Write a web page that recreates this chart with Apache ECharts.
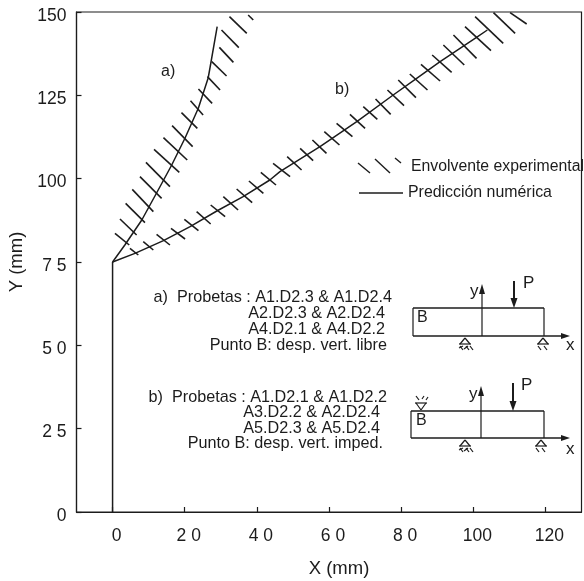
<!DOCTYPE html>
<html><head><meta charset="utf-8">
<style>html,body{margin:0;padding:0;background:#fff}#c{width:584px;height:581px}</style>
<script src="https://cdn.jsdelivr.net/npm/echarts@6/dist/echarts.min.js"></script>
</head><body><div id="c"></div>
<script>
const xTicks = [0, 20, 40, 60, 80, 100, 120];
const xTickLabels = ['0', '2 0', '4 0', '6 0', '8 0', '100', '120'];
const yTicks = [0, 25, 50, 75, 100, 125, 150];
const yTickLabels = ['0', '2 5', '5 0', '7 5', '100', '125', '150'];

const stem = [[0, 0], [0, 75]];
const curveA = [[0, 75], [3.4, 80.1], [8.1, 87.6], [12.2, 95.7], [16.4, 104.1], [20.1, 112.2], [23.8, 121.2], [26.5, 130.2], [27.0, 133.2], [29.0, 145.6]];
const curveB = [[0, 75], [6.2, 77.6], [14.1, 81.4], [21.5, 85.6], [28.9, 90.3], [36.2, 94.6], [43.6, 99.6], [46.4, 102.1], [57.5, 109.6], [67.7, 117.1], [77.8, 125.1], [84.3, 130.1], [90.8, 135.1], [100.9, 142.4], [103.9, 144.6]];

const hatchA = [
 [0.66,83.6,4.63,80.1],[2.05,87.9,6.67,83.1],[3.62,92.6,8.98,86.8],[5.46,96.8,11.3,90.1],
 [7.59,100.6,13.6,94.1],[9.25,104.9,15.9,97.6],[11.5,108.8,18.5,101.9],[14.1,112.3,20.7,105.6],
 [16.5,115.9,22.2,109.6],[19.1,119.8,23.5,115.1],[21.6,123.4,25.1,119.1],[23.8,126.9,27.6,122.6],
 [26.3,130.6,29.8,126.6],[27.5,135.1,31.6,130.8],[29.6,139.4,33.5,134.9],[30.2,144.6,35.0,139.3],
 [32.4,148.6,37.2,143.6],[37.6,149.1,39.0,147.6]];
const hatchB = [
 [4.82,79.1,7.13,77.1],[8.51,81.1,11.3,78.6],[12.2,83.3,15.9,80.1],[16.2,85.1,20.1,81.9],
 [19.9,87.8,23.8,84.4],[23.3,90.1,27.2,86.4],[27.2,92.1,31.2,88.6],[30.7,94.6,34.8,90.6],
 [34.4,96.9,38.7,92.8],[37.8,99.3,41.8,95.6],[41.1,101.9,45.3,98.1],[44.5,104.6,49.2,100.6],
 [48.4,106.6,52.4,102.6],[52.0,109.1,55.6,105.4],[55.4,111.6,59.3,107.6],[58.7,114.1,62.9,110.1],
 [62.1,116.6,66.5,112.6],[65.8,119.3,70.0,115.1],[69.5,121.6,73.4,117.8],[72.9,123.9,77.1,119.3],
 [76.2,126.6,80.8,121.9],[79.2,129.6,84.1,124.3],[82.4,131.4,87.3,126.6],[85.5,134.3,90.8,129.3],
 [88.6,137.1,94.0,131.9],[91.7,140.1,97.5,134.1],[94.5,143.1,100.9,136.1],[97.7,145.6,104.9,138.4],
 [100.5,148.6,108.3,140.6],[105.6,149.8,111.6,143.6],[110.2,149.8,114.8,146.4]];

const INK = '#1c1c1c';
const FONT = '"Liberation Sans", Arial, sans-serif';
const chart = echarts.init(document.getElementById('c'), null, {renderer: 'canvas'});

function label(text, x, y, size, align) {
  return {type: 'text', silent: true, x: x, y: y, style: {text: text, fill: INK, font: size + 'px ' + FONT, textAlign: align || 'left', textVerticalAlign: 'middle'}};
}
function seg(x1, y1, x2, y2, w) {
  return {type: 'line', silent: true, shape: {x1, y1, x2, y2}, style: {stroke: INK, lineWidth: w || 1.2}};
}
function poly(points, fill) {
  return {type: 'polygon', silent: true, shape: {points}, style: {fill: fill || INK}};
}
function support(cx, top, wide) {
  const e = [
    seg(cx - 5, top + 6, cx, top, 1.2), seg(cx, top, cx + 5, top + 6, 1.2), seg(cx - 6, top + 6, cx + 6, top + 6, 1.2),
    seg(cx - 5, top + 8, cx - 2, top + 12, 1.2), seg(cx + 1, top + 8, cx + 4, top + 12, 1.2)
  ];
  if (wide) e.push(seg(cx - 6, top + 10, cx - 2, top + 8, 1.2), seg(cx - 1, top + 11, cx + 3, top + 8, 1.2), seg(cx + 5, top + 8, cx + 8, top + 12, 1.2));
  return e;
}
function diagram(left, right, top, bottom, yAxisX, yTop, pX, pTop, xEnd) {
  return [
    seg(left, top, right, top, 1.4), seg(left, top, left, bottom), seg(right, top, right, bottom),
    seg(left, bottom, xEnd - 4, bottom, 1.5), seg(yAxisX, bottom, yAxisX, yTop + 4),
    poly([[xEnd, bottom], [xEnd - 9, bottom - 3], [xEnd - 9, bottom + 3]]),
    poly([[yAxisX, yTop], [yAxisX - 3, yTop + 10], [yAxisX + 3, yTop + 10]]),
    seg(pX, pTop, pX, top - 6, 2), poly([[pX, top], [pX - 3.5, top - 10], [pX + 3.5, top - 10]])
  ];
}

const graphics = [
  label('a)', 161, 72, 16), label('b)', 335, 90, 16),
  seg(358, 163, 370, 173, 1.4), seg(375, 159, 390, 173, 1.4), seg(395, 158, 401, 163, 1.4),
  label('Envolvente experimental', 411, 167, 15.8),
  seg(359, 193, 403, 193, 1.4),
  label('Predicción numérica', 408, 193, 15.9),
  label('a)  Probetas : A1.D2.3 & A1.D2.4', 392, 298, 16.2, 'right'),
  label('A2.D2.3 & A2.D2.4', 385, 314, 16.2, 'right'),
  label('A4.D2.1 & A4.D2.2', 385, 330, 16.2, 'right'),
  label('Punto B: desp. vert. libre', 387, 346, 16.2, 'right'),
  label('b)  Probetas : A1.D2.1 & A1.D2.2', 387, 398, 16.2, 'right'),
  label('A3.D2.2 & A2.D2.4', 380, 413, 16.2, 'right'),
  label('A5.D2.3 & A5.D2.4', 380, 429, 16.2, 'right'),
  label('Punto B: desp. vert. imped.', 383, 444, 16.2, 'right'),
  ...diagram(413, 544, 308, 336, 482, 284, 514, 281, 570),
  ...support(465, 338, true), ...support(543, 338, false),
  label('y', 470, 291, 17), label('P', 523, 283, 17), label('x', 566, 345, 17), label('B', 417, 318, 16),
  ...diagram(411, 544, 411, 438, 481, 386, 513, 383, 570),
  ...support(465, 440, true), ...support(541, 440, false),
  seg(416, 403, 421, 410, 1.2), seg(421, 410, 426, 403, 1.2), seg(415, 403, 427, 403, 1.2),
  seg(416, 396, 419, 400, 1.2), seg(422, 399, 424, 396, 1.2), seg(426, 400, 428, 397, 1.2),
  label('y', 469, 394, 17), label('P', 521, 385, 17), label('x', 566, 449, 17), label('B', 416, 421, 16)
];

function lineSeries(data) {
  return {type: 'line', data: data, symbol: 'none', smooth: false, silent: true, animation: false, lineStyle: {color: INK, width: 1.5}};
}
function hatchSeries(rows) {
  return {type: 'lines', coordinateSystem: 'cartesian2d', silent: true, animation: false,
    lineStyle: {color: INK, width: 1.6, opacity: 1},
    data: rows.map(r => ({coords: [[r[0], r[1]], [r[2], r[3]]]}))};
}

chart.setOption({
  animation: false,
  backgroundColor: '#fff',
  grid: {left: 76.5, right: 2.5, top: 12, bottom: 69, show: true, borderColor: INK, borderWidth: 1.2, containLabel: false, outerBoundsMode: 'none'},
  xAxis: {
    type: 'value', min: -10, max: 130, name: 'X (mm)', nameLocation: 'middle', nameGap: 47,
    nameTextStyle: {color: INK, fontFamily: FONT, fontSize: 18.5, padding: [0, 0, 0, 20]},
    axisLine: {show: true, onZero: false, lineStyle: {color: INK, width: 1.2}},
    axisTick: {show: true, inside: true, length: 5, customValues: xTicks, lineStyle: {color: INK, width: 1.2}},
    axisLabel: {show: true, customValues: xTicks, margin: 15, color: INK, fontFamily: FONT, fontSize: 17.5, padding: [0, 0, 0, 8],
      formatter: v => xTickLabels[xTicks.indexOf(v)] ?? ''},
    splitLine: {show: false}
  },
  yAxis: {
    type: 'value', min: 0, max: 150, interval: 25, name: 'Y (mm)', nameLocation: 'middle', nameRotate: 90, nameGap: 42,
    nameTextStyle: {color: INK, fontFamily: FONT, fontSize: 18.5},
    axisLine: {show: true, onZero: false, lineStyle: {color: INK, width: 1.2}},
    axisTick: {show: true, inside: true, length: 5, lineStyle: {color: INK, width: 1.2}},
    axisLabel: {show: true, margin: 10, color: INK, fontFamily: FONT, fontSize: 17.5, verticalAlign: 'top', lineHeight: 8, hideOverlap: false,
      formatter: v => yTickLabels[yTicks.indexOf(v)] ?? ''},
    splitLine: {show: false}
  },
  series: [lineSeries(stem), lineSeries(curveA), lineSeries(curveB), hatchSeries(hatchA), hatchSeries(hatchB)],
  graphic: graphics
});
</script></body></html>
